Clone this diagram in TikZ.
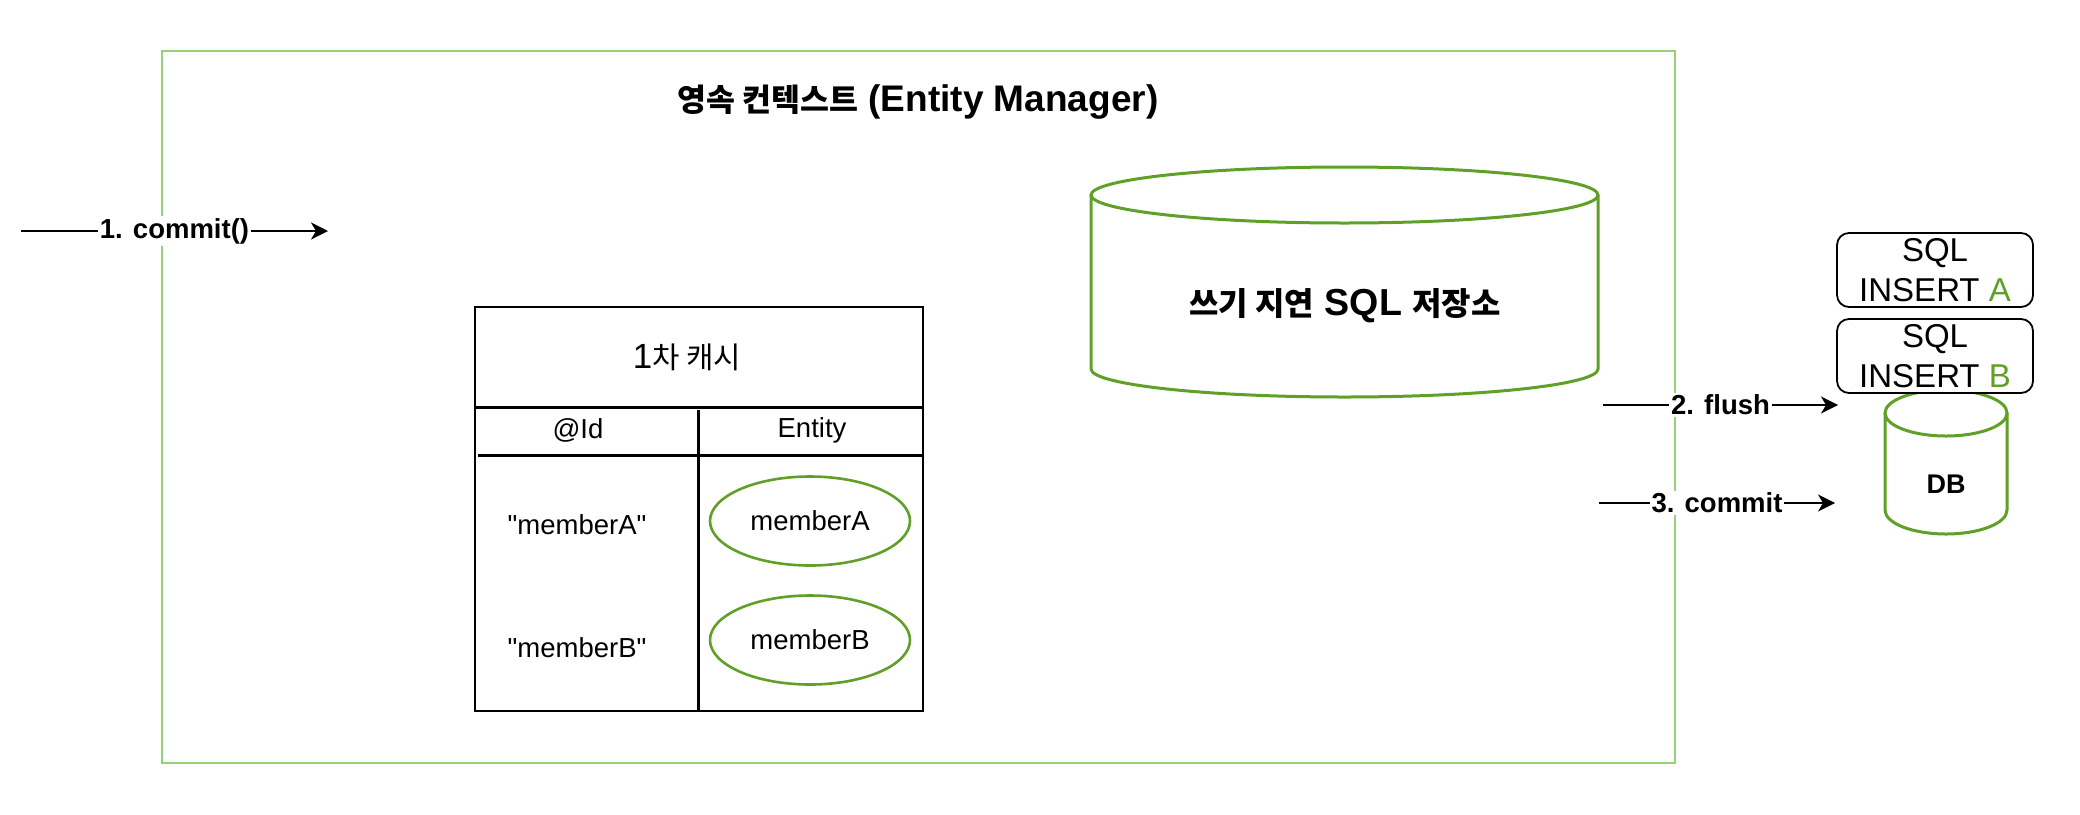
\documentclass[tikz,border=0pt]{standalone}
\usepackage{fontspec}
\setmainfont{Liberation Sans}[Ligatures=TeXOff]
\newfontfamily\kr{Noto Sans CJK KR}[Scale=0.85]
\usetikzlibrary{shapes.geometric,arrows.meta}
\definecolor{lgreen}{HTML}{97D077}
\definecolor{dgreen}{HTML}{60A028}
\newcommand\mytxt{\fontsize{13.75}{16.5}\selectfont}
\tikzset{
  lbl/.style={font=\fontsize{13.75}{16}\selectfont\bfseries, fill=white, inner sep=1pt},
  arr/.style={line width=1pt, -{Stealth[length=8.5pt,width=8.5pt,inset=2.5pt]}},
  gline/.style={draw=dgreen, line width=1.5pt},
  ent/.style={ellipse, draw=dgreen, line width=1.3pt, minimum width=100pt, minimum height=44.5pt, inner sep=0pt, font=\mytxt},
  cell/.style={font=\mytxt, inner sep=0pt},
  sqlbox/.style={draw, line width=0.9pt, rounded corners=6pt, fill=white, minimum width=98pt, minimum height=37pt, inner sep=0pt, align=center, font=\fontsize{16.5}{20}\selectfont},
}
\begin{document}
\begin{tikzpicture}[x=0.5pt, y=-0.5pt]
\useasboundingbox (0,0) rectangle (2080,814);
% outer context box
\node[draw=lgreen, line width=1pt, minimum width=756.5pt, minimum height=356pt, inner sep=0pt] (ctx) at (918.5,407) {};
\node[font=\fontsize{18.5}{22}\selectfont\bfseries, inner sep=0pt] (title) at (918,102) {{\kr 영속 컨텍스트} (Entity Manager)};

% table (1st level cache)
\node[draw, line width=0.75pt, minimum width=224pt, minimum height=202pt, inner sep=0pt] (tbl) at (699,509) {};
\draw[line width=1.5pt] (475,407) -- (923,407);
\draw[line width=1.5pt] (478,455) -- (923,455);
\draw[line width=1.5pt] (698,410) -- (698,711);
\node[font=\fontsize{17.5}{20}\selectfont, inner sep=0pt] (cache) at (687,357) {1{\kr 차 캐시}};
\node[cell] (idh) at (578,430) {@Id};
\node[cell] (enth) at (812,430) {Entity};
\node[cell] (ida) at (577,525) {"memberA"};
\node[cell] (idb) at (577,648) {"memberB"};
\node[ent] (ea) at (810,521) {memberA};
\node[ent] (eb) at (810,640) {memberB};

% write-behind SQL store cylinder
\draw[gline, fill=white] (1091,195) -- (1091,369) arc[start angle=180, end angle=360, x radius=126.75pt, y radius=14pt] -- (1598,195);
\draw[gline] (1344.5,195) ellipse [x radius=126.75pt, y radius=14pt];
\node[font=\fontsize{18.8}{22}\selectfont\bfseries, inner sep=0pt] (store) at (1345,306) {{\kr 쓰기 지연} SQL {\kr 저장소}};

% DB cylinder
\draw[gline, fill=white] (1885,413) -- (1885,510) arc[start angle=180, end angle=360, x radius=30.5pt, y radius=12pt] -- (2007,413);
\draw[gline, fill=white] (1946,413) ellipse [x radius=30.5pt, y radius=11.5pt];
\node[font=\fontsize{13.5}{16}\selectfont\bfseries, inner sep=0pt] (db) at (1946,484) {DB};

% SQL boxes
\node[sqlbox] (sqla) at (1935,270) {SQL\\INSERT \textcolor{dgreen}{A}};
\node[sqlbox] (sqlb) at (1935,356) {SQL\\INSERT \textcolor{dgreen}{B}};

% arrows
\coordinate (c1s) at (21,231);
\coordinate (c1e) at (328,231);
\coordinate (c2s) at (1603,405);
\coordinate (c2e) at (1838,405);
\coordinate (c3s) at (1599,503);
\coordinate (c3e) at (1835,503);
\draw[arr] (c1s) -- node[lbl] {1. commit()} (c1e);
\draw[arr] (c2s) -- node[lbl] {2. flush} (c2e);
\draw[arr] (c3s) -- node[lbl] {3. commit} (c3e);
\end{tikzpicture}
\end{document}
